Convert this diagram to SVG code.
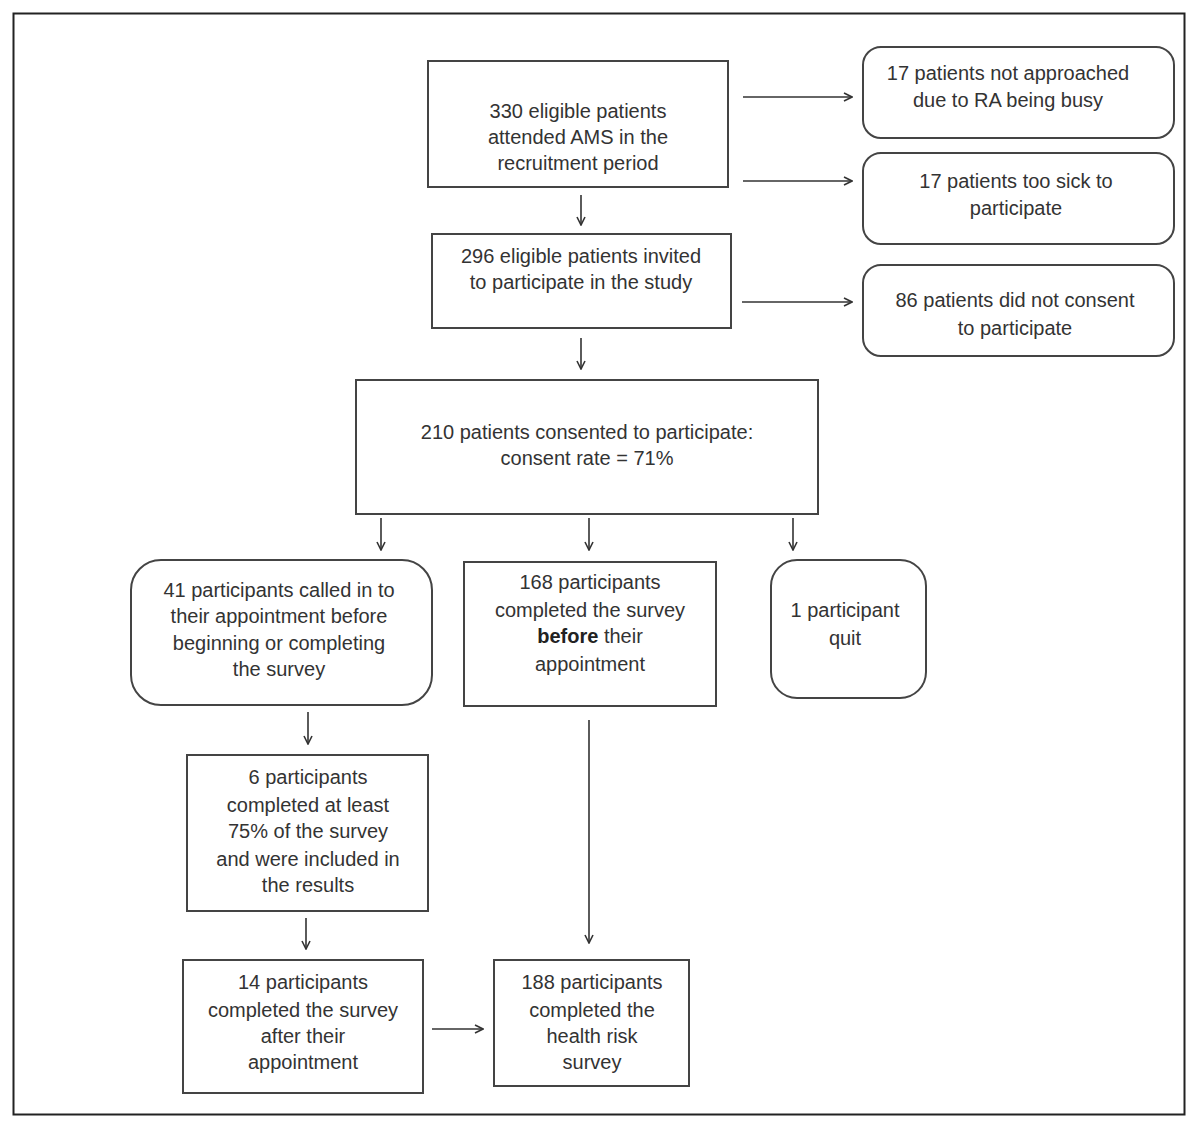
<svg xmlns="http://www.w3.org/2000/svg" width="1200" height="1125" viewBox="0 0 1200 1125">
<style>
.box{fill:#fff;stroke:#444;stroke-width:2}
.t{font-family:"Liberation Sans",Arial,sans-serif;font-size:20px;fill:#333;text-anchor:middle}
.c{stroke:#333;stroke-width:1.6;fill:none;marker-end:url(#ah)}
</style>
<defs>
<marker id="ah" viewBox="0 0 10 10" refX="9" refY="5" markerWidth="10" markerHeight="10" markerUnits="userSpaceOnUse" orient="auto">
<path d="M1,1 L9,5 L1,9" fill="none" stroke="#333" stroke-width="1.6"/>
</marker>
</defs>
<rect x="0" y="0" width="1200" height="1125" fill="#fff"/>
<rect x="13.5" y="13.5" width="1171" height="1101" fill="none" stroke="#222" stroke-width="2"/>

<g id="connectors">
<line class="c" x1="743" y1="97" x2="852" y2="97"/>
<line class="c" x1="743" y1="181" x2="852" y2="181"/>
<line class="c" x1="742" y1="302" x2="852" y2="302"/>
<line class="c" x1="581" y1="195" x2="581" y2="225"/>
<line class="c" x1="581" y1="338" x2="581" y2="369"/>
<line class="c" x1="381" y1="518" x2="381" y2="550"/>
<line class="c" x1="589" y1="518" x2="589" y2="550"/>
<line class="c" x1="793" y1="518" x2="793" y2="550"/>
<line class="c" x1="308" y1="712" x2="308" y2="744"/>
<line class="c" x1="306" y1="918" x2="306" y2="949"/>
<line class="c" x1="432" y1="1029" x2="483" y2="1029"/>
<line class="c" x1="589" y1="720" x2="589" y2="943"/>
</g>

<g id="n330">
<rect class="box" x="428" y="61" width="300" height="126"/>
<text class="t" x="578" y="118">330 eligible patients</text>
<text class="t" x="578" y="144">attended AMS in the</text>
<text class="t" x="578" y="170">recruitment period</text>
</g>

<g id="n17busy">
<rect class="box" x="863" y="47" width="311" height="91" rx="18"/>
<text class="t" x="1008" y="80">17 patients not approached</text>
<text class="t" x="1008" y="107">due to RA being busy</text>
</g>

<g id="n17sick">
<rect class="box" x="863" y="153" width="311" height="91" rx="18"/>
<text class="t" x="1016" y="188">17 patients too sick to</text>
<text class="t" x="1016" y="215">participate</text>
</g>

<g id="n86">
<rect class="box" x="863" y="265" width="311" height="91" rx="18"/>
<text class="t" x="1015" y="307">86 patients did not consent</text>
<text class="t" x="1015" y="335">to participate</text>
</g>

<g id="n296">
<rect class="box" x="432" y="234" width="299" height="94"/>
<text class="t" x="581" y="263">296 eligible patients invited</text>
<text class="t" x="581" y="289">to participate in the study</text>
</g>

<g id="n210">
<rect class="box" x="356" y="380" width="462" height="134"/>
<text class="t" x="587" y="439">210 patients consented to participate:</text>
<text class="t" x="587" y="465">consent rate = 71%</text>
</g>

<g id="n41">
<rect class="box" x="131" y="560" width="301" height="145" rx="30"/>
<text class="t" x="279" y="597">41 participants called in to</text>
<text class="t" x="279" y="623">their appointment before</text>
<text class="t" x="279" y="650">beginning or completing</text>
<text class="t" x="279" y="676">the survey</text>
</g>

<g id="n168">
<rect class="box" x="464" y="562" width="252" height="144"/>
<text class="t" x="590" y="589">168 participants</text>
<text class="t" x="590" y="617">completed the survey</text>
<text class="t" x="590" y="643"><tspan font-weight="bold" fill="#222">before</tspan> their</text>
<text class="t" x="590" y="671">appointment</text>
</g>

<g id="n1">
<rect class="box" x="771" y="560" width="155" height="138" rx="26"/>
<text class="t" x="845" y="617">1 participant</text>
<text class="t" x="845" y="645">quit</text>
</g>

<g id="n6">
<rect class="box" x="187" y="755" width="241" height="156"/>
<text class="t" x="308" y="784">6 participants</text>
<text class="t" x="308" y="812">completed at least</text>
<text class="t" x="308" y="838">75% of the survey</text>
<text class="t" x="308" y="866">and were included in</text>
<text class="t" x="308" y="892">the results</text>
</g>

<g id="n14">
<rect class="box" x="183" y="960" width="240" height="133"/>
<text class="t" x="303" y="989">14 participants</text>
<text class="t" x="303" y="1017">completed the survey</text>
<text class="t" x="303" y="1043">after their</text>
<text class="t" x="303" y="1069">appointment</text>
</g>

<g id="n188">
<rect class="box" x="494" y="960" width="195" height="126"/>
<text class="t" x="592" y="989">188 participants</text>
<text class="t" x="592" y="1017">completed the</text>
<text class="t" x="592" y="1043">health risk</text>
<text class="t" x="592" y="1069">survey</text>
</g>
</svg>
